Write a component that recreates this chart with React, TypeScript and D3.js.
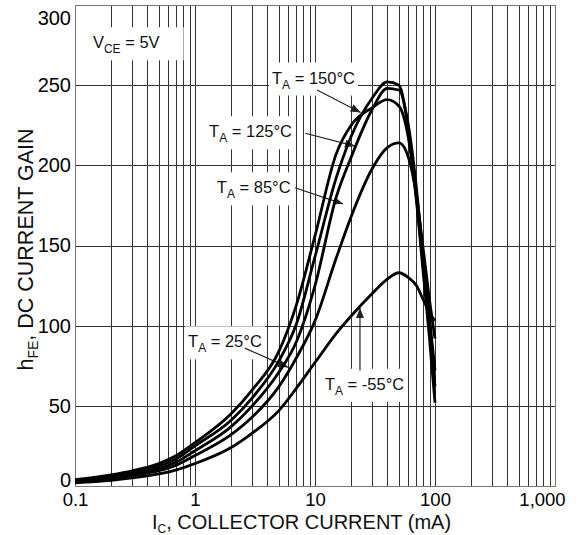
import * as d3 from 'd3';
import { useEffect, useRef } from 'react';

// collector current (mA) sample points
const currents = [0.1, 0.2, 0.3, 0.5, 0.7, 1, 2, 3, 5, 7, 10, 15, 20, 30, 40, 50, 60, 70, 80, 90, 100];

const gain150 = [4, 7, 9.5, 14, 19, 27, 45, 60, 84, 113, 156, 207, 225, 236, 241, 237, 217, 178, 132, 92, 52];
const gain125 = [3.5, 6, 8.5, 12.5, 17, 25, 41, 55, 78, 101, 143, 192, 218, 242, 252, 250, 222, 180, 136, 98, 62];
const gain85 = [3, 5, 7.5, 11, 15, 22, 37, 50, 71, 90, 125, 180, 205, 235, 248, 247, 225, 186, 141, 105, 72];
const gain25 = [2.5, 4.5, 6.5, 9.5, 13, 19, 32, 43, 62, 80, 103, 142, 168, 198, 211, 214, 205, 181, 147, 116, 92];
const gainM55 = [2, 3.5, 5, 7.5, 10, 14, 24, 33, 47, 61, 77, 95, 106, 120, 129, 133, 130, 125, 116, 108, 103];

const xTicks = [0.1, 1, 10, 100, 1000];
const xTickLabels = ['0.1', '1', '10', '100', '1,000'];
const yTicks = [0, 50, 100, 150, 200, 250, 300];

// annotation: label start (current, gain), arrow from -> to
const notes = [
  { t: '150°C', lx: 4.38, ly: 251, ax: [10.4, 247], at: [24, 233] },
  { t: '125°C', lx: 1.31, ly: 217.5, ax: [8.3, 220], at: [21.5, 212] },
  { t: '85°C', lx: 1.52, ly: 182.5, ax: [6.8, 186], at: [17.1, 176] },
  { t: '25°C', lx: 0.875, ly: 86.5, ax: [2.6, 86], at: [5.96, 74] },
  { t: '-55°C', lx: 12.1, ly: 60, ax: [23.7, 72], at: [23.7, 111] },
];

export default function App() {
  const ref = useRef<SVGSVGElement>(null);

  useEffect(() => {
    const W = 579, H = 535;
    const margin = { top: 5, right: 24, bottom: 49, left: 75 };
    const svg = d3.select(ref.current);
    svg.selectAll('*').remove();

    const x = d3.scaleLog().domain([0.1, 1000]).range([margin.left, W - margin.right]);
    const y = d3.scaleLinear().domain([0, 300]).range([H - margin.bottom, margin.top]);
    const px = (v: number) => Math.round(x(v)) + 0.5;
    const py = (v: number) => Math.round(y(v)) + 0.5;

    svg.append('defs').append('marker')
      .attr('id', 'arr')
      .attr('viewBox', '0 0 10 8')
      .attr('refX', 10).attr('refY', 4)
      .attr('markerWidth', 10).attr('markerHeight', 8)
      .attr('markerUnits', 'userSpaceOnUse')
      .attr('orient', 'auto')
      .append('path').attr('d', 'M0,0 L10,4 L0,8 z').attr('fill', '#222');

    // grid
    const minor: number[] = [];
    for (let k = -1; k < 3; k++) for (let m = 1; m < 10; m++) minor.push(m * Math.pow(10, k));
    minor.push(1000);
    const grid = svg.append('g');
    grid.selectAll('.vg').data(minor).enter().append('line')
      .attr('x1', d => px(d)).attr('x2', d => px(d))
      .attr('y1', y(0)).attr('y2', y(300))
      .attr('stroke', '#333').attr('stroke-width', 1);
    grid.selectAll('.hg').data(yTicks).enter().append('line')
      .attr('x1', x(0.1)).attr('x2', x(1000))
      .attr('y1', d => py(d)).attr('y2', d => py(d))
      .attr('stroke', '#333').attr('stroke-width', 1);
    svg.append('rect')
      .attr('x', px(0.1)).attr('y', py(300))
      .attr('width', px(1000) - px(0.1)).attr('height', py(0) - py(300))
      .attr('fill', 'none').attr('stroke', '#777');

    // axis labels
    const xa = svg.append('g')
      .attr('transform', `translate(0,${y(0)})`)
      .call(d3.axisBottom(x).tickValues(xTicks).tickSize(0).tickPadding(7)
        .tickFormat((d, i) => xTickLabels[i]));
    xa.select('.domain').remove();
    xa.selectAll('text').attr('font-size', 18.5).attr('fill', '#000')
      .attr('font-family', 'Liberation Sans, Arial, sans-serif')
      .attr('dx', (d: any) => (d === 1000 ? -13 : 0));

    const ya = svg.append('g')
      .attr('transform', `translate(${x(0.1)},0)`)
      .call(d3.axisLeft(y).tickValues(yTicks).tickSize(0).tickPadding(4));
    ya.select('.domain').remove();
    ya.selectAll('text').attr('font-size', 20).attr('fill', '#000')
      .attr('font-family', 'Liberation Sans, Arial, sans-serif')
      .attr('dy', (d: any) => (d === 300 ? '0.95em' : d === 0 ? '0.02em' : '0.32em'));

    // annotation boxes + text
    const note = svg.append('g').attr('font-size', 16.5);
    const addLabel = (sx: number, sy: number, parts: [string, string, string], padX: number, padR: number) => {
      const g = note.append('g');
      const t = g.append('text').attr('x', sx).attr('y', sy).attr('fill', '#111');
      t.append('tspan').text(parts[0]);
      t.append('tspan').attr('font-size', 12).attr('dy', 5).text(parts[1]);
      t.append('tspan').attr('dy', -5).text(parts[2]);
      const bb = (t.node() as SVGTextElement).getBBox();
      g.insert('rect', 'text')
        .attr('x', bb.x - padX).attr('y', bb.y - 6)
        .attr('width', bb.width + padX + padR).attr('height', bb.height + 10)
        .attr('fill', '#fff');
    };
    addLabel(x(0.141), y(273), ['V', 'CE', ' = 5V'], 10, 24);
    notes.forEach(n => addLabel(x(n.lx), y(n.ly), ['T', 'A', ' = ' + n.t], 3, 3));

    // arrows
    svg.append('g').selectAll('line').data(notes).enter().append('line')
      .attr('x1', d => x(d.ax[0])).attr('y1', d => y(d.ax[1]))
      .attr('x2', d => x(d.at[0])).attr('y2', d => y(d.at[1]))
      .attr('stroke', '#222').attr('stroke-width', 1.2)
      .attr('marker-end', 'url(#arr)');

    // curves
    const series = [gain150, gain125, gain85, gain25, gainM55];
    const line = d3.line<number>()
      .x((_, i) => x(currents[i]))
      .y(d => y(d))
      .curve(d3.curveMonotoneX);
    svg.append('g').selectAll('path').data(series).enter().append('path')
      .attr('d', d => line(d))
      .attr('fill', 'none').attr('stroke', '#000').attr('stroke-width', 2.8)
      .attr('stroke-linejoin', 'round');

    // axis titles
    const xt = svg.append('text')
      .attr('x', 152).attr('y', 529)
      .attr('font-size', 20).attr('fill', '#111');
    xt.append('tspan').text('I');
    xt.append('tspan').attr('font-size', 12).attr('dy', 3.5).text('C');
    xt.append('tspan').attr('dy', -3.5).text(', COLLECTOR CURRENT (mA)');

    const yt = svg.append('text')
      .attr('transform', `translate(33,${y(72)}) rotate(-90)`)
      .attr('font-size', 21.5).attr('fill', '#111');
    yt.append('tspan').text('h');
    yt.append('tspan').attr('font-size', 14).attr('dy', 5).text('FE');
    yt.append('tspan').attr('dy', -5).text(', DC CURRENT GAIN');
  }, []);

  return (
    <svg
      ref={ref}
      width={579}
      height={535}
      fontFamily="Liberation Sans, Arial, sans-serif"
      style={{ position: 'absolute', left: 0, top: 0, background: '#fff' }}
    />
  );
}
